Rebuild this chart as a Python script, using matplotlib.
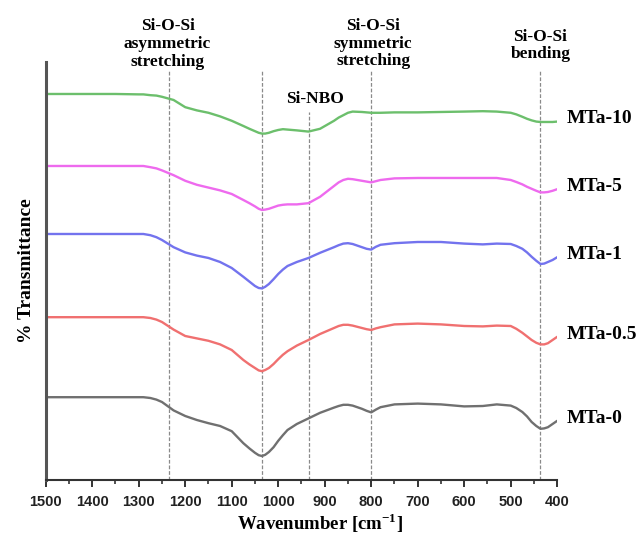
import matplotlib
matplotlib.use("Agg")
import matplotlib.pyplot as plt
from matplotlib.ticker import MultipleLocator

plt.rcParams["mathtext.fontset"] = "custom"
plt.rcParams["mathtext.rm"] = "Liberation Serif"
plt.rcParams["mathtext.bf"] = "Liberation Serif:bold"

# FTIR spectra, offset vertically (transmittance, arbitrary units)
wavenumber = [1500, 1450, 1400, 1350, 1300,
              1290, 1275, 1262, 1250, 1225,
              1200, 1175, 1150, 1125, 1100,
              1075, 1062, 1050, 1042, 1035,
              1028, 1020, 1010, 1000, 990,
              980, 960, 935, 910, 880,
              870, 860, 850, 840, 820,
              810, 800, 790, 780, 750,
              700, 650, 600, 560, 530,
              500, 488, 475, 465, 455,
              445, 436, 428, 420, 410,
              400]

mta_10 = [96.5, 96.5, 96.5, 96.5, 96.4,
          96.4, 96.2, 96.1, 95.8, 95.0,
          93.2, 92.4, 91.8, 90.9, 89.8,
          88.5, 87.8, 87.2, 86.8, 86.6,
          86.6, 86.8, 87.2, 87.5, 87.7,
          87.6, 87.4, 87.1, 87.8, 89.8,
          90.6, 91.2, 91.8, 92.1, 92.0,
          91.9, 91.8, 91.8, 91.8, 91.9,
          91.9, 92.0, 92.1, 92.2, 92.1,
          91.8, 91.4, 90.8, 90.3, 89.9,
          89.6, 89.5, 89.5, 89.5, 89.5,
          89.6]

mta_5 = [78.5, 78.5, 78.5, 78.5, 78.5,
         78.5, 78.2, 77.9, 77.4, 76.2,
         74.8, 73.8, 73.1, 72.4, 71.5,
         70.0, 69.2, 68.4, 67.8, 67.5,
         67.6, 67.8, 68.2, 68.6, 68.8,
         68.9, 68.9, 69.2, 70.8, 73.5,
         74.4, 75.0, 75.3, 75.2, 74.8,
         74.6, 74.4, 74.7, 75.0, 75.4,
         75.5, 75.5, 75.5, 75.5, 75.5,
         75.0, 74.5, 73.9, 73.3, 72.8,
         72.3, 71.9, 71.9, 72.0, 72.3,
         72.7]

mta_1 = [61.5, 61.5, 61.5, 61.5, 61.5,
         61.5, 61.2, 60.7, 60.0, 58.2,
         56.9, 56.1, 55.5, 54.5, 53.0,
         50.8, 49.6, 48.5, 48.0, 47.9,
         48.3, 49.0, 50.2, 51.5, 52.6,
         53.5, 54.5, 55.5, 56.8, 58.2,
         58.7, 59.1, 59.2, 59.0, 58.2,
         57.8, 57.6, 58.3, 58.8, 59.2,
         59.5, 59.5, 59.1, 58.9, 59.1,
         59.0, 58.5, 57.8, 56.9, 55.8,
         54.8, 54.0, 54.1, 54.5, 55.0,
         55.7]

mta_05 = [40.7, 40.7, 40.7, 40.7, 40.7,
          40.7, 40.5, 40.1, 39.5, 37.6,
          36.0, 35.4, 34.8, 33.9, 32.5,
          30.0, 28.9, 28.0, 27.4, 27.2,
          27.5, 28.0, 29.0, 30.2, 31.3,
          32.2, 33.6, 35.0, 36.5, 38.0,
          38.5, 38.8, 38.8, 38.6, 38.0,
          37.7, 37.5, 37.9, 38.2, 38.9,
          39.1, 38.9, 38.5, 38.4, 38.6,
          38.5, 37.8, 36.8, 35.9, 35.0,
          34.3, 33.9, 33.9, 34.2, 35.0,
          35.8]

mta_0 = [20.7, 20.7, 20.7, 20.7, 20.7,
         20.7, 20.5, 20.1, 19.5, 17.4,
         16.0, 15.0, 14.2, 13.5, 12.2,
         9.2, 7.9, 6.8, 6.2, 6.0,
         6.3, 7.0, 8.2, 9.8, 11.2,
         12.5, 14.0, 15.4, 16.8, 18.1,
         18.5, 18.8, 18.8, 18.6, 17.8,
         17.3, 16.9, 17.6, 18.2, 18.9,
         19.1, 18.9, 18.4, 18.5, 18.9,
         18.6, 18.0, 17.0, 15.9, 14.5,
         13.5, 12.8, 12.9, 13.2, 14.0,
         14.8]

sample_names = ["MTa-10", "MTa-5", "MTa-1", "MTa-0.5", "MTa-0"]
sample_colors = ["#6cbf6c", "#ee6aee", "#7373ee", "#f07070", "#707070"]
spectra = [mta_10, mta_5, mta_1, mta_05, mta_0]

# band assignments
band_positions = [1234, 1035, 933, 800, 436]
band_tops = [102.5, 102.5, 92.0, 102.5, 102.5]
band_labels = [(1238, "Si-O-Si\nasymmetric\nstretching", 109.0),
               (796, "Si-O-Si\nsymmetric\nstretching", 109.1),
               (436, "Si-O-Si\nbending", 108.6),
               (921, "Si-NBO", 95.3)]

serif_bold = dict(family="Liberation Serif", weight="bold")

fig = plt.figure(figsize=(6.43, 5.38), dpi=100)
ax = fig.add_axes([0.0711, 0.1078, 0.7955, 0.777])

ax.vlines(band_positions, 0, band_tops, colors="#8a8a8a", linewidth=0.9,
          linestyles=(0, (3, 1.5)), zorder=1)

for name, color, vals in zip(sample_names, sample_colors, spectra):
    ax.plot(wavenumber, vals, color=color, linewidth=1.7, zorder=2,
            solid_capstyle="round", solid_joinstyle="round")
    ax.annotate(name, xy=(wavenumber[-1], vals[-1]), xytext=(7, 2),
                textcoords="offset points", ha="left", va="center",
                fontsize=14, annotation_clip=False, **serif_bold)

for x, text, y in band_labels:
    ax.text(x, y, text, ha="center", va="center", fontsize=12.5,
            linespacing=1.15, clip_on=False, **serif_bold)

ax.set_xlim(1500, 400)
ax.set_ylim(0, 104.5)

ax.spines["top"].set_visible(False)
ax.spines["right"].set_visible(False)
ax.spines["left"].set_color("#555555")
ax.spines["left"].set_linewidth(2.2)
ax.spines["bottom"].set_color("#333333")
ax.spines["bottom"].set_linewidth(1.5)

ax.xaxis.set_major_locator(MultipleLocator(100))
ax.xaxis.set_minor_locator(MultipleLocator(50))
ax.tick_params(axis="x", which="major", direction="out", length=5,
               width=1.4, color="#333333", pad=6)
ax.tick_params(axis="x", which="minor", direction="out", length=3,
               width=1.2, color="#333333")
ax.set_yticks([])
for lbl in ax.get_xticklabels():
    lbl.set_family("Liberation Sans")
    lbl.set_weight("bold")
    lbl.set_fontsize(10.5)
    lbl.set_color("#222222")

ax.set_xlabel(r"Wavenumber [cm$^{\mathbf{-1}}$]", fontsize=13.5, **serif_bold)
ax.xaxis.set_label_coords(0.536, -0.074)
ax.set_ylabel("% Transmittance", fontsize=14, labelpad=8, **serif_bold)

fig.savefig("out.png", dpi=100)
